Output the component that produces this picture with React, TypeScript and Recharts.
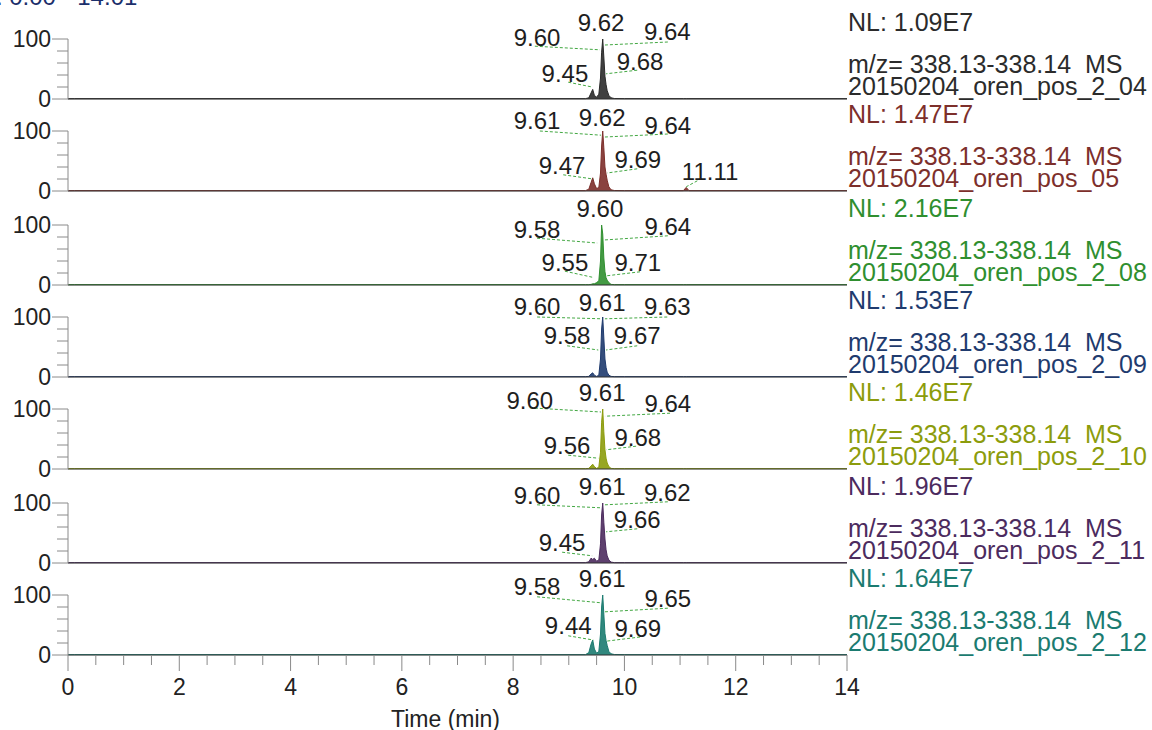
import { AreaChart, Area, XAxis, YAxis, ReferenceDot, ReferenceLine } from 'recharts'

// retention time grid (min), shared by all traces
const TIME = [0, 0.12, 9.3, 9.36, 9.4, 9.43, 9.46, 9.5, 9.54, 9.57, 9.59, 9.61, 9.63, 9.65, 9.67, 9.69, 9.72, 9.76, 9.82, 10.0, 11.06, 11.11, 11.16, 14.0]

// relative abundance (%) per run
const INT_04 = [0.5, 0.6, 0.6, 2, 10, 16, 6, 3, 8, 35, 78, 100, 70, 38, 24, 14, 6, 2, 0.8, 0.6, 0.6, 0.6, 0.6, 0.6]
const INT_05 = [0.5, 0.6, 0.6, 3, 14, 22, 12, 4, 6, 30, 75, 100, 72, 40, 28, 18, 7, 2, 0.8, 0.6, 0.6, 6, 0.6, 0.6]
const INT_08 = [0.5, 0.6, 0.6, 0.6, 1, 2, 2, 4, 7, 40, 100, 85, 45, 22, 12, 8, 4, 1, 0.6, 0.6, 0.6, 0.6, 0.6, 0.6]
const INT_09 = [0.5, 0.6, 0.6, 1, 5, 7, 3, 1, 3, 30, 80, 100, 65, 30, 16, 8, 3, 1, 0.6, 0.6, 0.6, 0.6, 0.6, 0.6]
const INT_10 = [0.5, 0.6, 0.6, 1, 5, 8, 4, 1, 3, 28, 78, 100, 62, 32, 18, 10, 4, 1, 0.6, 0.6, 0.6, 0.6, 0.6, 0.6]
const INT_11 = [0.5, 0.6, 0.6, 2, 8, 6, 8, 3, 5, 32, 80, 100, 68, 40, 22, 12, 5, 1.5, 0.6, 0.6, 0.6, 0.6, 0.6, 0.6]
const INT_12 = [0.5, 0.6, 0.6, 4, 18, 25, 10, 3, 6, 35, 80, 100, 68, 36, 24, 16, 6, 2, 0.8, 0.6, 0.6, 0.6, 0.6, 0.6]

const SERIES = [INT_04, INT_05, INT_08, INT_09, INT_10, INT_11, INT_12]
const NL = ['1.09E7', '1.47E7', '2.16E7', '1.53E7', '1.46E7', '1.96E7', '1.64E7']
const FILES = [
  '20150204_oren_pos_2_04',
  '20150204_oren_pos_05',
  '20150204_oren_pos_2_08',
  '20150204_oren_pos_2_09',
  '20150204_oren_pos_2_10',
  '20150204_oren_pos_2_11',
  '20150204_oren_pos_2_12',
]
const MZ = 'm/z= 338.13-338.14  MS'
const COLORS = ['#2b2b2b', '#7d2f2b', '#2f8f2f', '#1f3b6e', '#8c9c0c', '#4c2b5e', '#1b7b70']

const Y_TICKS = [0, 20, 40, 60, 80, 100]
const X_TICKS = [0, 0.5, 1, 1.5, 2, 2.5, 3, 3.5, 4, 4.5, 5, 5.5, 6, 6.5, 7, 7.5, 8, 8.5, 9, 9.5, 10, 10.5, 11, 11.5, 12, 12.5, 13, 13.5, 14]

// peak labels: text placed at (t, h); leader from -> to, in time/abundance units
type Ann = { text: string; t: number; h: number; from?: [number, number]; to?: [number, number] }

const ANN_04: Ann[] = [
  { text: '9.62', t: 9.58, h: 128 },
  { text: '9.60', t: 8.43, h: 103, from: [8.39, 88], to: [9.56, 82] },
  { text: '9.64', t: 10.77, h: 112, from: [10.78, 95], to: [9.65, 90] },
  { text: '9.68', t: 10.28, h: 62, from: [10.23, 48], to: [9.67, 42] },
  { text: '9.45', t: 8.93, h: 43, from: [8.99, 28], to: [9.42, 20] },
]
const ANN_05: Ann[] = [
  { text: '9.62', t: 9.6, h: 123 },
  { text: '9.61', t: 8.43, h: 117, from: [8.48, 100], to: [9.58, 93] },
  { text: '9.64', t: 10.78, h: 110, from: [10.78, 95], to: [9.65, 90] },
  { text: '9.47', t: 8.88, h: 43, from: [8.9, 27], to: [9.44, 20] },
  { text: '9.69', t: 10.24, h: 52, from: [10.23, 37], to: [9.69, 30] },
  { text: '11.11', t: 11.54, h: 32, from: [11.31, 17], to: [11.11, 7] },
]
const ANN_08: Ann[] = [
  { text: '9.60', t: 9.56, h: 128 },
  { text: '9.58', t: 8.43, h: 92, from: [8.43, 78], to: [9.51, 70] },
  { text: '9.64', t: 10.78, h: 97, from: [10.78, 82], to: [9.63, 75] },
  { text: '9.55', t: 8.93, h: 38, from: [8.93, 23], to: [9.42, 13] },
  { text: '9.71', t: 10.24, h: 37, from: [10.28, 22], to: [9.65, 15] },
]
const ANN_09: Ann[] = [
  { text: '9.61', t: 9.6, h: 125 },
  { text: '9.60', t: 8.43, h: 117, from: [8.43, 100], to: [9.6, 97] },
  { text: '9.63', t: 10.77, h: 117, from: [10.77, 100], to: [9.65, 97] },
  { text: '9.58', t: 8.97, h: 70, from: [8.97, 52], to: [9.53, 45] },
  { text: '9.67', t: 10.23, h: 70, from: [10.23, 52], to: [9.67, 45] },
]
const ANN_10: Ann[] = [
  { text: '9.61', t: 9.6, h: 127 },
  { text: '9.60', t: 8.3, h: 115, from: [8.3, 102], to: [9.58, 95] },
  { text: '9.64', t: 10.78, h: 110, from: [10.82, 93], to: [9.65, 88] },
  { text: '9.56', t: 8.97, h: 40, from: [8.99, 23], to: [9.53, 18] },
  { text: '9.68', t: 10.24, h: 53, from: [10.21, 38], to: [9.67, 32] },
]
const ANN_11: Ann[] = [
  { text: '9.61', t: 9.6, h: 127 },
  { text: '9.60', t: 8.43, h: 112, from: [8.43, 97], to: [9.58, 92] },
  { text: '9.62', t: 10.77, h: 118, from: [10.78, 102], to: [9.65, 97] },
  { text: '9.66', t: 10.23, h: 72, from: [10.23, 57], to: [9.67, 52] },
  { text: '9.45', t: 8.88, h: 35, from: [8.88, 18], to: [9.42, 12] },
]
const ANN_12: Ann[] = [
  { text: '9.61', t: 9.6, h: 128 },
  { text: '9.58', t: 8.43, h: 115, from: [8.43, 97], to: [9.58, 87] },
  { text: '9.65', t: 10.78, h: 95, from: [10.78, 78], to: [9.65, 72] },
  { text: '9.44', t: 8.99, h: 50, from: [8.99, 32], to: [9.44, 25] },
  { text: '9.69', t: 10.24, h: 45, from: [10.28, 30], to: [9.67, 23] },
]
const ANNS = [ANN_04, ANN_05, ANN_08, ANN_09, ANN_10, ANN_11, ANN_12]

const FONT = '"Liberation Sans", Arial, Helvetica, sans-serif'
const W = 1152
const PLOT_LEFT = 68
const PLOT_RIGHT = 847
const PLOT_H = 60
const TOP_PAD = 35
const BASELINES = [99, 191, 285, 377, 469, 563, 655]

function YTick({ x, y, payload }: any) {
  const major = payload.value === 0 || payload.value === 100
  return (
    <g>
      <line x1={x - (major ? 16 : 11)} x2={x} y1={y} y2={y} stroke="#8a8a8a" strokeWidth={1} />
      {major && (
        <text x={x - 17} y={y} dy="0.36em" textAnchor="end" fontSize={23} fill="#222" fontFamily={FONT}>
          {payload.value}
        </text>
      )}
    </g>
  )
}

function XTick({ x, y, payload }: any) {
  const major = payload.value % 2 === 0
  return (
    <g>
      <line x1={x} x2={x} y1={y} y2={y + (major ? 16 : 10)} stroke="#8a8a8a" strokeWidth={1} />
      {major && (
        <text x={x} y={y + 32} dy="0.36em" textAnchor="middle" fontSize={23} fill="#222" fontFamily={FONT}>
          {payload.value}
        </text>
      )}
    </g>
  )
}

function Panel({ idx }: { idx: number }) {
  const b = BASELINES[idx]
  const last = idx === SERIES.length - 1
  const xh = last ? 75 : 14
  const data = TIME.map((t, i) => ({ t, v: SERIES[idx][i] }))
  const color = COLORS[idx]
  return (
    <div style={{ position: 'absolute', left: 0, top: b - PLOT_H - TOP_PAD }}>
      <AreaChart
        width={W}
        height={TOP_PAD + PLOT_H + xh}
        data={data}
        margin={{ top: TOP_PAD, right: W - PLOT_RIGHT, bottom: 0, left: 0 }}
      >
        <XAxis
          type="number"
          dataKey="t"
          domain={[0, 14]}
          ticks={last ? X_TICKS : []}
          interval={0}
          tick={last ? <XTick /> : false}
          tickLine={false}
          tickSize={0}
          tickMargin={0}
          height={xh}
          axisLine={{ stroke: '#2e2e2e' }}
          label={
            last
              ? { value: 'Time (min)', position: 'insideBottom', offset: 3, dx: -12, fontSize: 23, fill: '#222', fontFamily: FONT }
              : undefined
          }
        />
        <YAxis
          type="number"
          domain={[0, 100]}
          ticks={Y_TICKS}
          interval={0}
          width={PLOT_LEFT}
          tick={<YTick />}
          tickLine={false}
          tickSize={0}
          tickMargin={0}
          axisLine={{ stroke: '#8a8a8a' }}
        />
        <Area
          type="linear"
          dataKey="v"
          stroke={color}
          strokeWidth={1}
          fill={color}
          fillOpacity={0.9}
          dot={false}
          activeDot={false}
          isAnimationActive={false}
        />
        {ANNS[idx].filter((a) => a.from && a.to).map((a) => (
          <ReferenceLine
            key={'l' + a.text + a.t}
            segment={[{ x: a.from![0], y: a.from![1] }, { x: a.to![0], y: a.to![1] }]}
            stroke="#43a843"
            strokeWidth={1}
            strokeDasharray="3 2"
            ifOverflow="visible"
          />
        ))}
        {ANNS[idx].map((a) => (
          <ReferenceDot
            key={'d' + a.text + a.t}
            x={a.t}
            y={a.h}
            r={0}
            stroke="none"
            fill="none"
            ifOverflow="visible"
            label={{ value: a.text, position: 'center', fontSize: 24, fill: '#1e1e1e', fontFamily: FONT }}
          />
        ))}
      </AreaChart>
    </div>
  )
}

export default function App() {
  return (
    <div
      style={{
        position: 'absolute',
        left: 0,
        top: 0,
        width: W,
        height: 730,
        overflow: 'hidden',
        background: '#fff',
        fontFamily: FONT,
      }}
    >
      <div style={{ position: 'absolute', left: -33, top: -17, fontSize: 24, lineHeight: '28px', color: '#1c2f6b', whiteSpace: 'pre' }}>
        RT: 0.00 - 14.01
      </div>
      {SERIES.map((_, i) => (
        <Panel key={i} idx={i} />
      ))}
      {SERIES.map((_, i) => {
        const b = BASELINES[i]
        const style = {
          position: 'absolute' as const,
          left: 848,
          fontSize: 25,
          lineHeight: '22px',
          color: COLORS[i],
          whiteSpace: 'pre' as const,
        }
        return (
          <div key={'r' + i}>
            <div style={{ ...style, top: b - 77 - 11 }}>NL: {NL[i]}</div>
            <div style={{ ...style, top: b - 35 - 11 }}>{MZ}</div>
            <div style={{ ...style, top: b - 13 - 11 }}>{FILES[i]}</div>
          </div>
        )
      })}
    </div>
  )
}
